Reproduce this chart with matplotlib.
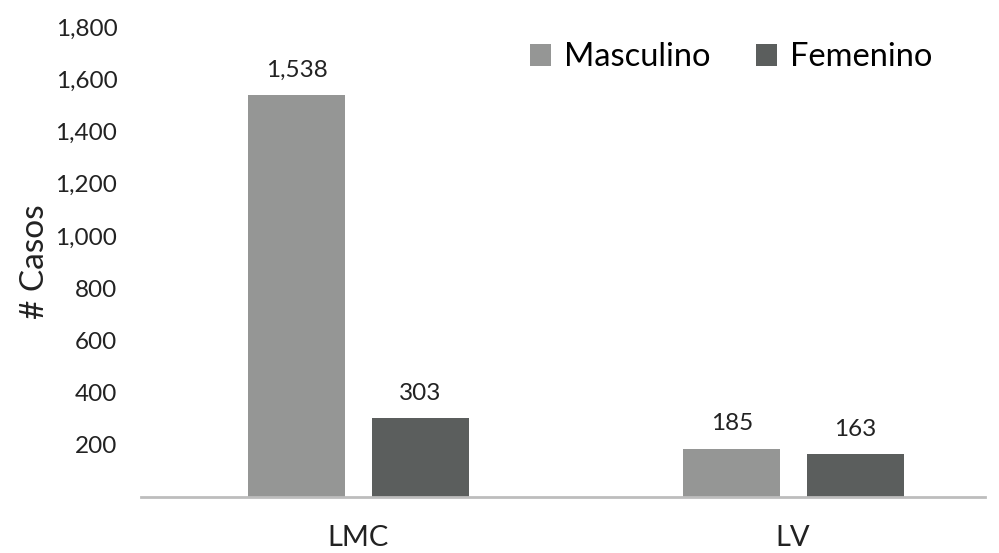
import numpy as np
import matplotlib
matplotlib.use("Agg")
import matplotlib.pyplot as plt

plt.rcParams["font.family"] = ["Lato", "DejaVu Sans"]

# Datos
categorias = ["LMC", "LV"]
masculino = [1538, 185]
femenino = [303, 163]
ticks_y = [200, 400, 600, 800, 1000, 1200, 1400, 1600, 1800]

color_m = "#959695"
color_f = "#5b5e5d"

fig = plt.figure(figsize=(9.99, 5.53), dpi=100)
ax = fig.add_axes([141 / 999, 56 / 553, 844 / 999, (497 - 27) / 553])

x = np.arange(len(categorias))
ancho = 0.223
b1 = ax.bar(x - 0.141, masculino, ancho, color=color_m, label="Masculino")
b2 = ax.bar(x + 0.1425, femenino, ancho, color=color_f, label="Femenino")

for barras in (b1, b2):
    for b in barras:
        v = b.get_height()
        ax.text(b.get_x() + b.get_width() / 2, v + 55, f"{v:,.0f}",
                ha="center", va="bottom", fontsize=17.5, color="#222222")

ax.set_xlim(-0.499, 1.441)
ax.set_ylim(0, 1800)
ax.set_yticks(ticks_y)
ax.set_yticklabels([f"{t:,}" for t in ticks_y])
ax.set_xticks(x)
ax.set_xticklabels(categorias)

for s in ["top", "right", "left"]:
    ax.spines[s].set_visible(False)
ax.spines["bottom"].set_color("#bdbdbd")
ax.spines["bottom"].set_linewidth(2)

ax.tick_params(axis="y", length=0, labelsize=17.5, pad=17, colors="#222222")
ax.tick_params(axis="x", length=0, labelsize=21, pad=20, colors="#222222")
ax.set_ylabel("# Casos", fontsize=24, color="#222222", labelpad=4)

ax.legend(loc="upper right", bbox_to_anchor=(0.973, 1.03), ncol=2, frameon=False,
          fontsize=23.5, handlelength=0.65, handleheight=0.65, handletextpad=0.4,
          columnspacing=1.4)

plt.savefig("out.png", dpi=100)
